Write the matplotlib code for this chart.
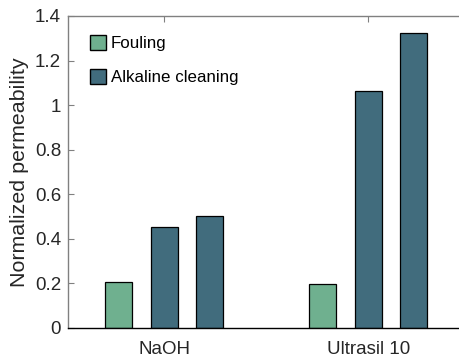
import matplotlib.pyplot as plt
import numpy as np
from matplotlib.patches import Patch

plt.rcParams['font.family'] = ['Liberation Sans', 'DejaVu Sans']

categories = ["NaOH", "Ultrasil 10"]
fouling = [0.205, 0.197]
cleaning_1 = [0.452, 1.065]
cleaning_2 = [0.501, 1.323]

green = "#6fb08f"
teal = "#416c7d"
gray = "#808080"

x = np.arange(1, len(categories) + 1)
w = 0.133
off = 0.223

fig = plt.figure(figsize=(4.59, 3.56), dpi=100)
ax = fig.add_axes([68 / 459, 1 - 328 / 356, 1 - 68 / 459, (328 - 16) / 356])

ax.bar(x - off, fouling, w, color=green, edgecolor="black", linewidth=0.9, zorder=3)
ax.bar(x, cleaning_1, w, color=teal, edgecolor="black", linewidth=0.9, zorder=3)
ax.bar(x + off, cleaning_2, w, color=teal, edgecolor="black", linewidth=0.9, zorder=3)

ax.set_xlim(0.529, 2.445)
ax.set_ylim(0, 1.4)
ax.set_xticks(x)
ax.set_xticklabels(categories)
yt = np.arange(0, 1.41, 0.2)
ax.set_yticks(yt)
ax.set_yticklabels(["0", "0.2", "0.4", "0.6", "0.8", "1", "1.2", "1.4"])
ax.tick_params(axis="both", direction="in", labelsize=13.5, length=4, width=0.8, colors=gray,
               labelcolor="#262626")
ax.tick_params(axis="x", top=True, pad=9)
ax.tick_params(axis="y", pad=5)

for s in ["left", "top"]:
    ax.spines[s].set_color(gray)
    ax.spines[s].set_linewidth(1)
ax.spines["bottom"].set_color("black")
ax.spines["bottom"].set_linewidth(1)
ax.spines["bottom"].set_zorder(4)
ax.spines["right"].set_visible(False)

ax.set_ylabel("Normalized permeability", fontsize=15.4, color="#262626", labelpad=4)

handles = [Patch(facecolor=green, edgecolor="black", label="Fouling"),
           Patch(facecolor=teal, edgecolor="black", label="Alkaline cleaning")]
ax.legend(handles=handles, loc="upper left", frameon=False, fontsize=12.2,
          handlelength=0.95, handleheight=1.0, handletextpad=0.3, labelspacing=1.05,
          borderpad=0, borderaxespad=0, bbox_to_anchor=(0.056, 0.94))

fig.savefig("out.png", dpi=100)
